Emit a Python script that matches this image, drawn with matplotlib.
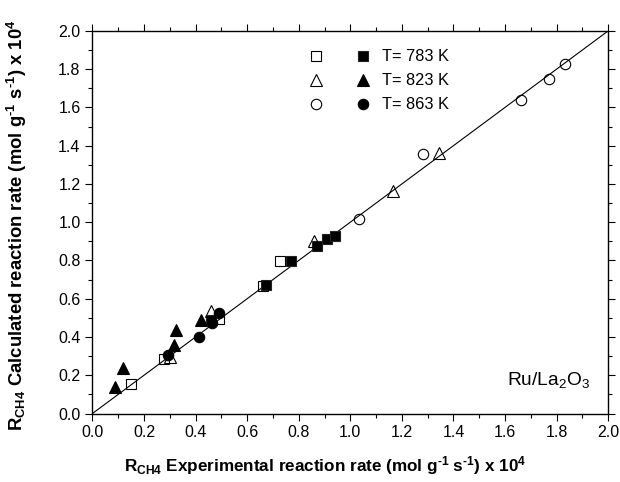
import numpy as np
import matplotlib
matplotlib.use("Agg")
import matplotlib.pyplot as plt
from matplotlib.legend_handler import HandlerTuple
from matplotlib.ticker import MultipleLocator, FormatStrFormatter

plt.rcParams['font.family'] = ['Liberation Sans', 'DejaVu Sans']
plt.rcParams['mathtext.fontset'] = 'custom'
plt.rcParams['mathtext.rm'] = 'Liberation Sans'
plt.rcParams['mathtext.bf'] = 'Liberation Sans:bold'
plt.rcParams['mathtext.default'] = 'regular'

# experimental (x) vs calculated (y) rates, x 10^4
exp_783_open = [0.148, 0.277, 0.49, 0.662, 0.729]
calc_783_open = [0.153, 0.285, 0.495, 0.664, 0.795]
exp_783_fill = [0.46, 0.672, 0.769, 0.869, 0.911, 0.94]
calc_783_fill = [0.49, 0.673, 0.795, 0.877, 0.912, 0.929]

exp_823_open = [0.30, 0.459, 0.86, 1.164, 1.343]
calc_823_open = [0.297, 0.538, 0.903, 1.165, 1.362]
exp_823_fill = [0.087, 0.12, 0.316, 0.324, 0.42]
calc_823_fill = [0.137, 0.237, 0.357, 0.437, 0.49]

exp_863_open = [1.034, 1.282, 1.661, 1.771, 1.831]
calc_863_open = [1.018, 1.359, 1.641, 1.75, 1.825]
exp_863_fill = [0.294, 0.413, 0.462, 0.49]
calc_863_fill = [0.306, 0.402, 0.472, 0.528]

legend_labels = ['T= 783 K', 'T= 823 K', 'T= 863 K']

fig = plt.figure(figsize=(6.2, 4.82), dpi=100)
ax = fig.add_axes([0.149, 0.142, 0.832, 0.794])

# parity line
ax.plot([0, 2], [0, 2], color='black', lw=0.8, zorder=1)

ms = 7.5
mew = 0.8
o1, = ax.plot(exp_783_open, calc_783_open, 's', ms=6.8, mfc='none', mec='black', mew=mew, zorder=3)
f1, = ax.plot(exp_783_fill, calc_783_fill, 's', ms=6.8, mfc='black', mec='#222222', mew=mew, zorder=2)
o2, = ax.plot(exp_823_open, calc_823_open, '^', ms=ms + 0.5, mfc='none', mec='black', mew=mew, zorder=3)
f2, = ax.plot(exp_823_fill, calc_823_fill, '^', ms=ms + 0.5, mfc='black', mec='black', mew=mew, zorder=2)
o3, = ax.plot(exp_863_open, calc_863_open, 'o', ms=ms, mfc='none', mec='black', mew=mew, zorder=3)
f3, = ax.plot(exp_863_fill, calc_863_fill, 'o', ms=ms, mfc='black', mec='black', mew=mew, zorder=2)

ax.set_xlim(0, 2.0)
ax.set_ylim(0, 2.0)
ax.xaxis.set_major_locator(MultipleLocator(0.2))
ax.yaxis.set_major_locator(MultipleLocator(0.2))
ax.xaxis.set_minor_locator(MultipleLocator(0.1))
ax.yaxis.set_minor_locator(MultipleLocator(0.1))
ax.xaxis.set_major_formatter(FormatStrFormatter('%.1f'))
ax.yaxis.set_major_formatter(FormatStrFormatter('%.1f'))
ax.tick_params(which='both', direction='out', top=True, right=True,
               labeltop=False, labelright=False, width=0.8, labelsize=11.5)
ax.tick_params(which='major', length=5)
ax.tick_params(which='minor', length=3)
for s in ax.spines.values():
    s.set_linewidth(1.0)

hy = '\u2010'
ax.set_xlabel(r'R$_{\mathbf{CH4}}$ Experimental reaction rate (mol g$^{\mathbf{' + hy + r'1}}$ s$^{\mathbf{' + hy + r'1}}$) x 10$^{\mathbf{4}}$',
              fontsize=12.3, fontweight='bold')
ax.set_ylabel(r'R$_{\mathbf{CH4}}$ Calculated reaction rate (mol g$^{\mathbf{' + hy + r'1}}$ s$^{\mathbf{' + hy + r'1}}$) x 10$^{\mathbf{4}}$',
              fontsize=13.3, fontweight='bold')
ax.xaxis.set_label_coords(0.451, -0.105)
ax.yaxis.set_label_coords(-0.123, 0.492)

ax.text(0.965, 0.088, r'Ru/La$_2$O$_3$', transform=ax.transAxes, ha='right', va='center', fontsize=13.8)

ax.legend([(o1, f1), (o2, f2), (o3, f3)], legend_labels,
          handler_map={tuple: HandlerTuple(ndivide=None, pad=2.0)},
          loc='upper left', bbox_to_anchor=(0.39, 0.99), frameon=False,
          fontsize=11.8, handlelength=3.8, handletextpad=0.7, labelspacing=0.55)

fig.savefig('out.png', dpi=100)
